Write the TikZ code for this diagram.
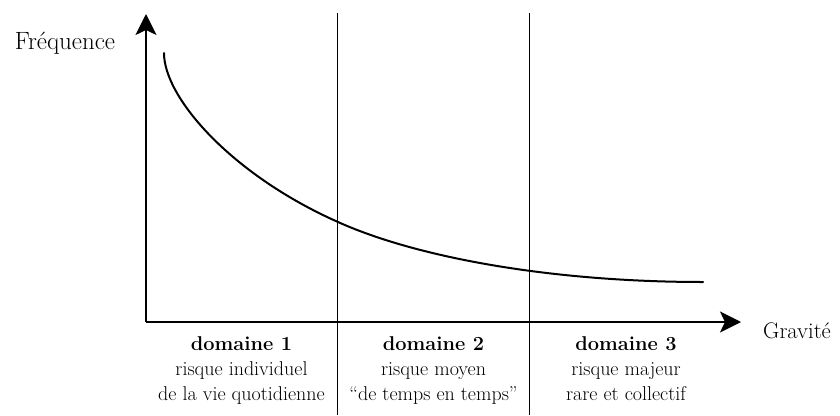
\documentclass[tikz,border=0pt]{standalone}
\usetikzlibrary{arrows.meta}
\begin{document}
\begin{tikzpicture}[x=1pt,y=-1pt,
  axis/.style={line width=2pt,-{Stealth[length=21pt,width=21pt,inset=5pt]}},
  divider/.style={line width=1.2pt},
  riskcurve/.style={line width=2pt,line cap=round},
  axislabel/.style={inner sep=0pt},
  zonecaption/.style={inner sep=0pt,anchor=north,align=center,font=\fontsize{20}{25}\selectfont}]
  \useasboundingbox (0,0) rectangle (840,415);

  % axes
  \coordinate (O) at (146,322);
  \coordinate (ytip) at (146,14);
  \coordinate (xtip) at (741,322);
  \draw[axis] (O) -- (ytip);
  \draw[axis] (O) -- (xtip);

  % domain separators
  \coordinate (d1top) at (337.5,13);
  \coordinate (d1bot) at (337.5,415);
  \coordinate (d2top) at (529.5,13);
  \coordinate (d2bot) at (529.5,415);
  \draw[divider] (d1top) -- (d1bot);
  \draw[divider] (d2top) -- (d2bot);

  % frequency versus severity
  \coordinate (c0) at (164,53);
  \coordinate (c1) at (338,222);
  \coordinate (c2) at (703,282);
  \draw[riskcurve] (c0) .. controls (164,98) and (232,175) .. (c1)
                        .. controls (418,258) and (553,282) .. (c2);

  % axis labels
  \node[axislabel,font=\fontsize{25}{30}\selectfont] (freq) at (65,43) {Fréquence};
  \node[axislabel,font=\fontsize{22.5}{27}\selectfont] (grav) at (797,331) {Gravité};

  % domain captions
  \node[zonecaption] (dom1) at (241.5,336) {\textbf{domaine 1}\\risque individuel\\de la vie quotidienne};
  \node[zonecaption] (dom2) at (433.5,336) {\textbf{domaine 2}\\risque moyen\\``de temps en temps''};
  \node[zonecaption] (dom3) at (626,336) {\textbf{domaine 3}\\risque majeur\\rare et collectif};
\end{tikzpicture}
\end{document}
